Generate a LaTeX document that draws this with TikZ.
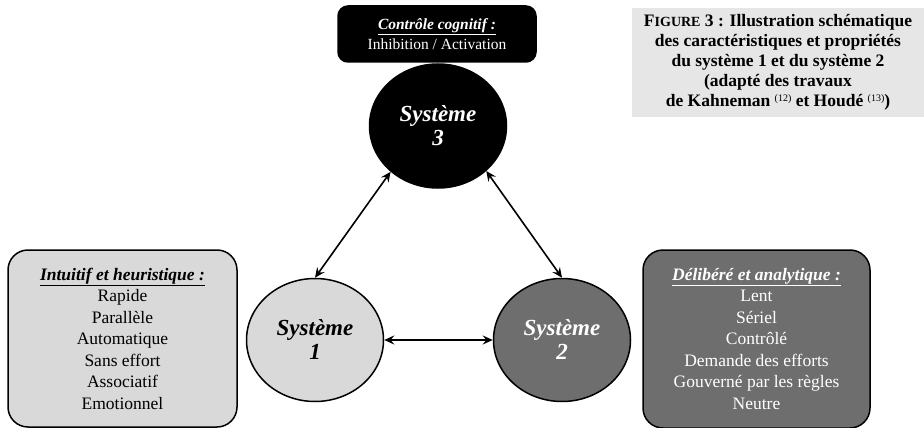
\documentclass[tikz,border=0pt]{standalone}
\usepackage{fontspec}
\setmainfont{Liberation Serif}
\usetikzlibrary{shapes.geometric,arrows.meta,positioning}

\definecolor{lightfill}{HTML}{D9D9D9}
\definecolor{darkfill}{HTML}{6E6E6E}
\definecolor{captionfill}{HTML}{E6E6E6}

\begin{document}
\begin{tikzpicture}[
  x=1pt, y=-1pt,
  system/.style={ellipse, draw, line width=1.5pt, minimum width=137pt, minimum height=123pt, align=center, font=\fontsize{23}{24}\selectfont\bfseries\itshape},
  infobox/.style={rectangle, draw, line width=1.5pt, rounded corners=20pt, align=center, font=\fontsize{17.5}{21.5}\selectfont},
  caption/.style={rectangle, fill=captionfill, align=center, font=\fontsize{17.5}{20}\selectfont\bfseries},
  link/.style={{Stealth[length=10pt,width=9pt,inset=3.5pt]}-{Stealth[length=10pt,width=9pt,inset=3.5pt]}, line width=1.6pt}
]
  \useasboundingbox (0,0) rectangle (924,428);

  % Figure caption
  \node[caption, minimum width=292pt, minimum height=109pt] (legend) at (778,62.5)
    {F{\fontsize{14}{20}\selectfont IGURE} 3 : Illustration schématique\\
     des caractéristiques et propriétés\\
     du système 1 et du système 2\\
     (adapté des travaux\\
     de Kahneman {\fontsize{10}{10}\selectfont\mdseries\raisebox{5pt}{(12)}} et Houdé {\fontsize{10}{10}\selectfont\mdseries\raisebox{5pt}{(13)}})};

  % Systems
  \node[system, fill=black, text=white, minimum height=124pt] (sys3) at (438,126) {Système\\3};
  \node[system, fill=lightfill] (sys1) at (315,340) {Système\\1};
  \node[system, fill=darkfill, text=white] (sys2) at (562,340) {Système\\2};

  % Descriptions
  \node[infobox, fill=black, text=white, rounded corners=10pt, minimum width=198pt, minimum height=56pt, font=\fontsize{15.5}{20}\selectfont] (control) at (437,34)
    {\underline{\textbf{\textit{Contrôle cognitif :}}}\\Inhibition / Activation};
  \node[infobox, fill=lightfill, minimum width=229pt, minimum height=177pt] (intuitive) at (122.5,338.5)
    {\underline{\textbf{\textit{Intuitif et heuristique :}}}\\Rapide\\Parallèle\\Automatique\\Sans effort\\Associatif\\Emotionnel};
  \node[infobox, fill=darkfill, text=white, minimum width=227pt, minimum height=178pt] (deliberate) at (756.5,339)
    {\underline{\textbf{\textit{Délibéré et analytique :}}}\\Lent\\Sériel\\Contrôlé\\Demande des efforts\\Gouverné par les règles\\Neutre};

  % Arrows
  \draw[link] (sys3.224) -- (sys1.north);
  \draw[link] (sys3.317) -- (sys2.north);
  \draw[link] (sys1.east) -- (sys2.west);
\end{tikzpicture}
\end{document}
